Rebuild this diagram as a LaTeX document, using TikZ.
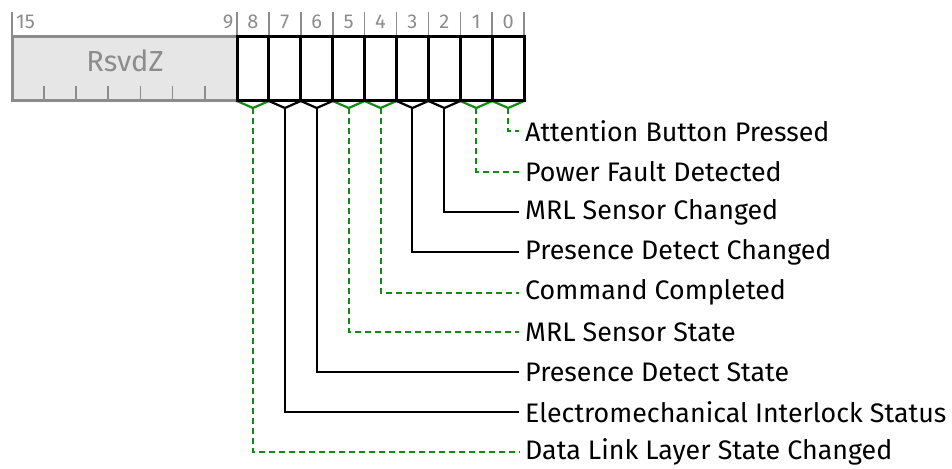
\documentclass[tikz,border=0pt]{standalone}
\usepackage{fontspec}
\setmainfont{Fira Sans}
\definecolor{rgray}{HTML}{8C8C8C}
\definecolor{rfill}{HTML}{E6E6E6}
\definecolor{lgreen}{HTML}{138A13}
\begin{document}
\begin{tikzpicture}[x=1pt,y=-1pt,
  bitbox/.style={draw=black,line width=3pt,minimum width=31.9pt,minimum height=64pt,inner sep=0pt,outer sep=0pt,anchor=north west},
  numlbl/.style={text=rgray,font=\fontsize{20}{20}\selectfont,inner sep=0pt},
  fieldlbl/.style={font=\fontsize{26.8}{26.8}\selectfont,anchor=west,inner sep=0pt,text=black},
  glink/.style={draw=lgreen,line width=2pt,dash pattern=on 6pt off 4pt},
  klink/.style={draw=black,line width=2pt},
  gbr/.style={draw=lgreen,line width=2.2pt},
  kbr/.style={draw=black,line width=2.2pt},
  sepline/.style={draw=rgray,line width=1.6pt}]
\useasboundingbox (0,0) rectangle (952,468);
% reserved field
\node[draw=rgray,fill=rfill,line width=3pt,minimum width=225pt,minimum height=64pt,inner sep=0pt,outer sep=0pt,anchor=north west] (rsvd) at (12,37) {};
\node[text=rgray,font=\fontsize{29}{29}\selectfont] (rsvdt) at (125,61) {RsvdZ};
\foreach \k in {1,...,6} {\draw[draw=rgray,line width=1.8pt] (12+\k*32.1,86) -- (12+\k*32.1,101);}
\draw[sepline] (12,12) -- (12,37);
\node[numlbl,anchor=west] (n15) at (16,22) {15};
\node[numlbl,anchor=east] (n9) at (233.5,22) {9};
% bits
\foreach \b in {8,...,0} {
  \pgfmathsetmacro{\xl}{237+(8-\b)*31.9}
  \node[bitbox] (b\b) at (\xl,37) {};
  \draw[sepline] (\xl,12) -- (\xl,37);
  \node[numlbl] (n\b) at (\xl+15.95,22) {\b};
  \coordinate (p\b) at (\xl+15.95,108);
}
\draw[sepline] (524.1,12) -- (524.1,37);
% labels
\node[fieldlbl] (l0) at (525,131) {Attention Button Pressed};
\node[fieldlbl] (l1) at (525,171.5) {Power Fault Detected};
\node[fieldlbl] (l2) at (525,212) {MRL Sensor Changed};
\node[fieldlbl] (l3) at (525,252) {Presence Detect Changed};
\node[fieldlbl] (l4) at (525,292.5) {Command Completed};
\node[fieldlbl] (l5) at (525,332) {MRL Sensor State};
\node[fieldlbl] (l6) at (525,372) {Presence Detect State};
\node[fieldlbl] (l7) at (525,412) {Electromechanical Interlock Status};
\node[fieldlbl] (l8) at (525,452) {Data Link Layer State Changed};
% brackets and connectors
\foreach \b/\br/\lk in {0/gbr/glink,1/gbr/glink,2/kbr/klink,3/kbr/klink,4/gbr/glink,5/gbr/glink,6/kbr/klink,7/kbr/klink,8/gbr/glink} {
  \draw[\br] (b\b.south west) -- (p\b) -- (b\b.south east);
  \draw[\lk] (p\b) |- ([xshift=-6pt]l\b.west);
}
% redraw bit boxes on top
\foreach \b in {8,...,0} {\draw[black,line width=3pt] (b\b.south west) rectangle (b\b.north east);}
\end{tikzpicture}
\end{document}
